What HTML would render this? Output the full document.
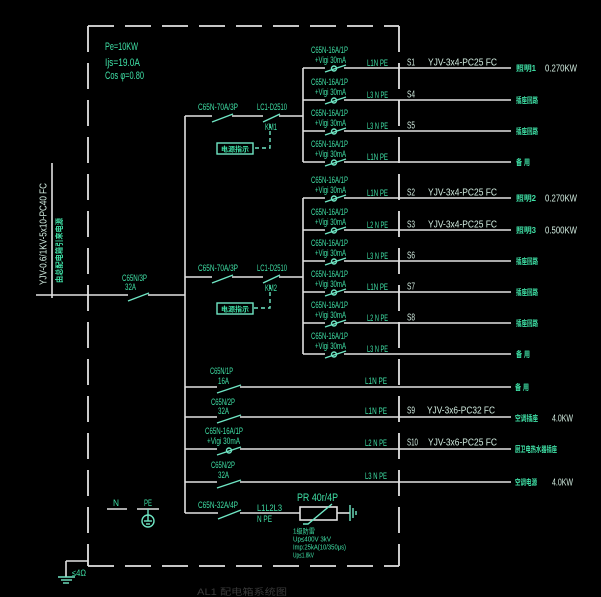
<!DOCTYPE html>
<html><head><meta charset="utf-8">
<style>
html,body{margin:0;padding:0;background:#000;}
svg{display:block}
.l{stroke:#e2e2e2;stroke-width:1.6;fill:none}
.d{stroke:#e2e2e2;stroke-width:1.8;fill:none;stroke-dasharray:26 11}
.b{stroke:#6fe6c4;stroke-width:1.4;fill:none}
text{font-family:"Liberation Sans","Noto Sans CJK SC",sans-serif;}
.g{fill:#3fe0a6;font-size:9px}
.w{fill:#d2ece0;font-size:10px}
.c{fill:#3fe0a6;font-size:8px;font-weight:bold}
</style></head><body>
<svg width="601" height="597" viewBox="0 0 601 597" xmlns="http://www.w3.org/2000/svg">
<rect width="601" height="597" fill="#000"/>

<!-- dashed enclosure -->
<line class="d" x1="88" y1="26" x2="399" y2="26"/>
<line class="d" x1="88" y1="26" x2="88" y2="566"/>
<line class="d" x1="88" y1="566" x2="399" y2="566"/>
<line class="d" x1="399" y1="26" x2="399" y2="566"/>

<!-- info -->
<text class="g" style="font-size:11px" x="105" y="50" textLength="33" lengthAdjust="spacingAndGlyphs">Pe=10KW</text>
<text class="g" style="font-size:11px" x="105" y="66" textLength="35" lengthAdjust="spacingAndGlyphs">Ijs=19.0A</text>
<text class="g" style="font-size:11px" x="105" y="79" textLength="39" lengthAdjust="spacingAndGlyphs">Cos φ=0.80</text>

<!-- incoming -->
<line class="l" x1="52" y1="163" x2="52" y2="298"/>
<line class="l" x1="36" y1="295" x2="128" y2="295"/>
<line class="b" x1="128" y1="301" x2="149" y2="293"/>
<line class="l" x1="148" y1="295" x2="185" y2="295"/>
<text class="w" transform="translate(46.5,285) rotate(-90)" textLength="102" lengthAdjust="spacingAndGlyphs">YJV-0.6/1KV-5x10-PC40  FC</text>
<text class="c" transform="translate(62,283) rotate(-90)" textLength="65" lengthAdjust="spacingAndGlyphs">由总配电箱引来电源</text>
<text class="g" x="122" y="281" textLength="25" lengthAdjust="spacingAndGlyphs">C65N/3P</text>
<text class="g" x="125" y="290" textLength="11" lengthAdjust="spacingAndGlyphs">32A</text>

<!-- main bus -->
<line class="l" x1="185" y1="116" x2="185" y2="513"/>

<!-- group 1 feeder -->
<line class="l" x1="185" y1="116" x2="212" y2="116"/>
<line class="b" x1="212" y1="122" x2="233" y2="114"/>
<line class="l" x1="232" y1="116" x2="263" y2="116"/>
<line class="b" x1="263" y1="122" x2="280" y2="114"/>
<line class="l" x1="279" y1="116" x2="303" y2="116"/>
<line class="l" x1="303" y1="68" x2="303" y2="162"/>
<path class="b" stroke-dasharray="4 3" d="M270,124 V148 H253"/>
<rect class="b" x="217" y="143" width="36" height="11"/>
<text class="c" style="font-size:7px" x="221" y="151.5" textLength="28" lengthAdjust="spacingAndGlyphs">电源指示</text>
<text class="g" x="198" y="110" textLength="40" lengthAdjust="spacingAndGlyphs">C65N-70A/3P</text>
<text class="g" x="257" y="110" textLength="30" lengthAdjust="spacingAndGlyphs">LC1-D2510</text>
<text class="g" x="265" y="130" textLength="12" lengthAdjust="spacingAndGlyphs">KM1</text>

<!-- group 2 feeder -->
<line class="l" x1="185" y1="277" x2="212" y2="277"/>
<line class="b" x1="212" y1="283" x2="233" y2="275"/>
<line class="l" x1="232" y1="277" x2="263" y2="277"/>
<line class="b" x1="263" y1="283" x2="280" y2="275"/>
<line class="l" x1="279" y1="277" x2="303" y2="277"/>
<line class="l" x1="303" y1="198" x2="303" y2="354"/>
<path class="b" stroke-dasharray="4 3" d="M270,285 V308 H253"/>
<rect class="b" x="217" y="303" width="36" height="11"/>
<text class="c" style="font-size:7px" x="221" y="311.5" textLength="28" lengthAdjust="spacingAndGlyphs">电源指示</text>
<text class="g" x="198" y="271" textLength="40" lengthAdjust="spacingAndGlyphs">C65N-70A/3P</text>
<text class="g" x="257" y="271" textLength="30" lengthAdjust="spacingAndGlyphs">LC1-D2510</text>
<text class="g" x="265" y="291" textLength="12" lengthAdjust="spacingAndGlyphs">KM2</text>

<!-- ===== sub rows ===== -->
<!-- row 68 -->
<line class="l" x1="303" y1="68" x2="325" y2="68"/><line class="b" x1="325" y1="72" x2="346" y2="65"/><circle class="b" cx="334" cy="68.5" r="2.5"/><line class="l" x1="344" y1="68" x2="511" y2="68"/>
<text class="g" x="311" y="53" textLength="37" lengthAdjust="spacingAndGlyphs">C65N-16A/1P</text>
<text class="g" x="315" y="63" textLength="31" lengthAdjust="spacingAndGlyphs">+Vigi 30mA</text>
<text class="g" x="367" y="66" textLength="21" lengthAdjust="spacingAndGlyphs">L1N PE</text>
<text class="w" x="407" y="65.5" textLength="8" lengthAdjust="spacingAndGlyphs">S1</text>
<text class="w" x="428" y="65.5" textLength="69" lengthAdjust="spacingAndGlyphs">YJV-3x4-PC25  FC</text>
<text class="c" x="516" y="71" textLength="20" lengthAdjust="spacingAndGlyphs">照明1</text>
<text class="w" x="545" y="71.5" textLength="32" lengthAdjust="spacingAndGlyphs">0.270KW</text>

<!-- row 100 -->
<line class="l" x1="303" y1="100" x2="325" y2="100"/><line class="b" x1="325" y1="104" x2="346" y2="97"/><circle class="b" cx="334" cy="100.5" r="2.5"/><line class="l" x1="344" y1="100" x2="511" y2="100"/>
<text class="g" x="311" y="85" textLength="37" lengthAdjust="spacingAndGlyphs">C65N-16A/1P</text>
<text class="g" x="315" y="95" textLength="31" lengthAdjust="spacingAndGlyphs">+Vigi 30mA</text>
<text class="g" x="367" y="98" textLength="21" lengthAdjust="spacingAndGlyphs">L3 N PE</text>
<text class="w" x="407" y="97.5" textLength="8" lengthAdjust="spacingAndGlyphs">S4</text>
<text class="c" x="516" y="103" textLength="22" lengthAdjust="spacingAndGlyphs">插座回路</text>

<!-- row 131 -->
<line class="l" x1="303" y1="131" x2="325" y2="131"/><line class="b" x1="325" y1="135" x2="346" y2="128"/><circle class="b" cx="334" cy="131.5" r="2.5"/><line class="l" x1="344" y1="131" x2="511" y2="131"/>
<text class="g" x="311" y="116" textLength="37" lengthAdjust="spacingAndGlyphs">C65N-16A/1P</text>
<text class="g" x="315" y="126" textLength="31" lengthAdjust="spacingAndGlyphs">+Vigi 30mA</text>
<text class="g" x="367" y="129" textLength="21" lengthAdjust="spacingAndGlyphs">L3 N PE</text>
<text class="w" x="407" y="128.5" textLength="8" lengthAdjust="spacingAndGlyphs">S5</text>
<text class="c" x="516" y="134" textLength="22" lengthAdjust="spacingAndGlyphs">插座回路</text>

<!-- row 162 -->
<line class="l" x1="303" y1="162" x2="325" y2="162"/><line class="b" x1="325" y1="166" x2="346" y2="159"/><circle class="b" cx="334" cy="162.5" r="2.5"/><line class="l" x1="344" y1="162" x2="511" y2="162"/>
<text class="g" x="311" y="147" textLength="37" lengthAdjust="spacingAndGlyphs">C65N-16A/1P</text>
<text class="g" x="315" y="157" textLength="31" lengthAdjust="spacingAndGlyphs">+Vigi 30mA</text>
<text class="g" x="367" y="160" textLength="21" lengthAdjust="spacingAndGlyphs">L1N PE</text>
<text class="c" x="516" y="165" textLength="14" lengthAdjust="spacingAndGlyphs">备 用</text>

<!-- row 198 -->
<line class="l" x1="303" y1="198" x2="325" y2="198"/><line class="b" x1="325" y1="202" x2="346" y2="195"/><circle class="b" cx="334" cy="198.5" r="2.5"/><line class="l" x1="344" y1="198" x2="511" y2="198"/>
<text class="g" x="311" y="183" textLength="37" lengthAdjust="spacingAndGlyphs">C65N-16A/1P</text>
<text class="g" x="315" y="193" textLength="31" lengthAdjust="spacingAndGlyphs">+Vigi 30mA</text>
<text class="g" x="367" y="196" textLength="21" lengthAdjust="spacingAndGlyphs">L1N PE</text>
<text class="w" x="407" y="195.5" textLength="8" lengthAdjust="spacingAndGlyphs">S2</text>
<text class="w" x="428" y="195.5" textLength="69" lengthAdjust="spacingAndGlyphs">YJV-3x4-PC25  FC</text>
<text class="c" x="516" y="201" textLength="20" lengthAdjust="spacingAndGlyphs">照明2</text>
<text class="w" x="545" y="201.5" textLength="32" lengthAdjust="spacingAndGlyphs">0.270KW</text>

<!-- row 230 -->
<line class="l" x1="303" y1="230" x2="325" y2="230"/><line class="b" x1="325" y1="234" x2="346" y2="227"/><circle class="b" cx="334" cy="230.5" r="2.5"/><line class="l" x1="344" y1="230" x2="511" y2="230"/>
<text class="g" x="311" y="215" textLength="37" lengthAdjust="spacingAndGlyphs">C65N-16A/1P</text>
<text class="g" x="315" y="225" textLength="31" lengthAdjust="spacingAndGlyphs">+Vigi 30mA</text>
<text class="g" x="367" y="228" textLength="21" lengthAdjust="spacingAndGlyphs">L2 N PE</text>
<text class="w" x="407" y="227.5" textLength="8" lengthAdjust="spacingAndGlyphs">S3</text>
<text class="w" x="428" y="227.5" textLength="69" lengthAdjust="spacingAndGlyphs">YJV-3x4-PC25  FC</text>
<text class="c" x="516" y="233" textLength="20" lengthAdjust="spacingAndGlyphs">照明3</text>
<text class="w" x="545" y="233.5" textLength="32" lengthAdjust="spacingAndGlyphs">0.500KW</text>

<!-- row 261 -->
<line class="l" x1="303" y1="261" x2="325" y2="261"/><line class="b" x1="325" y1="265" x2="346" y2="258"/><circle class="b" cx="334" cy="261.5" r="2.5"/><line class="l" x1="344" y1="261" x2="511" y2="261"/>
<text class="g" x="311" y="246" textLength="37" lengthAdjust="spacingAndGlyphs">C65N-16A/1P</text>
<text class="g" x="315" y="256" textLength="31" lengthAdjust="spacingAndGlyphs">+Vigi 30mA</text>
<text class="g" x="367" y="259" textLength="21" lengthAdjust="spacingAndGlyphs">L3 N PE</text>
<text class="w" x="407" y="258.5" textLength="8" lengthAdjust="spacingAndGlyphs">S6</text>
<text class="c" x="516" y="264" textLength="22" lengthAdjust="spacingAndGlyphs">插座回路</text>

<!-- row 292 -->
<line class="l" x1="303" y1="292" x2="325" y2="292"/><line class="b" x1="325" y1="296" x2="346" y2="289"/><circle class="b" cx="334" cy="292.5" r="2.5"/><line class="l" x1="344" y1="292" x2="511" y2="292"/>
<text class="g" x="311" y="277" textLength="37" lengthAdjust="spacingAndGlyphs">C65N-16A/1P</text>
<text class="g" x="315" y="287" textLength="31" lengthAdjust="spacingAndGlyphs">+Vigi 30mA</text>
<text class="g" x="367" y="290" textLength="21" lengthAdjust="spacingAndGlyphs">L1N PE</text>
<text class="w" x="407" y="289.5" textLength="8" lengthAdjust="spacingAndGlyphs">S7</text>
<text class="c" x="516" y="295" textLength="22" lengthAdjust="spacingAndGlyphs">插座回路</text>

<!-- row 323 -->
<line class="l" x1="303" y1="323" x2="325" y2="323"/><line class="b" x1="325" y1="327" x2="346" y2="320"/><circle class="b" cx="334" cy="323.5" r="2.5"/><line class="l" x1="344" y1="323" x2="511" y2="323"/>
<text class="g" x="311" y="308" textLength="37" lengthAdjust="spacingAndGlyphs">C65N-16A/1P</text>
<text class="g" x="315" y="318" textLength="31" lengthAdjust="spacingAndGlyphs">+Vigi 30mA</text>
<text class="g" x="367" y="321" textLength="21" lengthAdjust="spacingAndGlyphs">L2 N PE</text>
<text class="w" x="407" y="320.5" textLength="8" lengthAdjust="spacingAndGlyphs">S8</text>
<text class="c" x="516" y="326" textLength="22" lengthAdjust="spacingAndGlyphs">插座回路</text>

<!-- row 354 -->
<line class="l" x1="303" y1="354" x2="325" y2="354"/><line class="b" x1="325" y1="358" x2="346" y2="351"/><circle class="b" cx="334" cy="354.5" r="2.5"/><line class="l" x1="344" y1="354" x2="511" y2="354"/>
<text class="g" x="311" y="339" textLength="37" lengthAdjust="spacingAndGlyphs">C65N-16A/1P</text>
<text class="g" x="315" y="349" textLength="31" lengthAdjust="spacingAndGlyphs">+Vigi 30mA</text>
<text class="g" x="367" y="352" textLength="21" lengthAdjust="spacingAndGlyphs">L3 N PE</text>
<text class="c" x="516" y="357" textLength="14" lengthAdjust="spacingAndGlyphs">备 用</text>

<!-- ===== lower rows ===== -->
<!-- 387 -->
<line class="l" x1="185" y1="387" x2="217" y2="387"/><line class="b" x1="217" y1="393" x2="241" y2="385"/><line class="l" x1="240" y1="387" x2="511" y2="387"/>
<text class="g" x="210" y="374" textLength="23" lengthAdjust="spacingAndGlyphs">C65N/1P</text>
<text class="g" x="218" y="384" textLength="11" lengthAdjust="spacingAndGlyphs">16A</text>
<text class="g" x="365" y="384" textLength="22" lengthAdjust="spacingAndGlyphs">L1N PE</text>
<text class="c" x="515" y="390" textLength="14" lengthAdjust="spacingAndGlyphs">备 用</text>

<!-- 417 -->
<line class="l" x1="185" y1="417" x2="217" y2="417"/><line class="b" x1="217" y1="423" x2="241" y2="415"/><line class="l" x1="240" y1="417" x2="511" y2="417"/>
<text class="g" x="211" y="405" textLength="24" lengthAdjust="spacingAndGlyphs">C65N/2P</text>
<text class="g" x="218" y="414" textLength="11" lengthAdjust="spacingAndGlyphs">32A</text>
<text class="g" x="365" y="414" textLength="22" lengthAdjust="spacingAndGlyphs">L1N PE</text>
<text class="w" x="407" y="413.5" textLength="8" lengthAdjust="spacingAndGlyphs">S9</text>
<text class="w" x="427" y="413.5" textLength="68" lengthAdjust="spacingAndGlyphs">YJV-3x6-PC32  FC</text>
<text class="c" x="515" y="421" textLength="23" lengthAdjust="spacingAndGlyphs">空调插座</text>
<text class="w" x="552" y="421.5" textLength="21" lengthAdjust="spacingAndGlyphs">4.0KW</text>

<!-- 449 -->
<line class="l" x1="185" y1="449" x2="217" y2="449"/><line class="b" x1="217" y1="455" x2="241" y2="447"/><circle class="b" cx="229" cy="450.5" r="2.5"/><line class="l" x1="240" y1="449" x2="511" y2="449"/>
<text class="g" x="205" y="434" textLength="38" lengthAdjust="spacingAndGlyphs">C65N-16A/1P</text>
<text class="g" x="207" y="444" textLength="33" lengthAdjust="spacingAndGlyphs">+Vigi 30mA</text>
<text class="g" x="365" y="446" textLength="22" lengthAdjust="spacingAndGlyphs">L2 N PE</text>
<text class="w" x="407" y="445.5" textLength="11" lengthAdjust="spacingAndGlyphs">S10</text>
<text class="w" x="428" y="445.5" textLength="69" lengthAdjust="spacingAndGlyphs">YJV-3x6-PC25  FC</text>
<text class="c" x="515" y="452" textLength="42" lengthAdjust="spacingAndGlyphs">厨卫电热水器插座</text>

<!-- 482 -->
<line class="l" x1="185" y1="482" x2="217" y2="482"/><line class="b" x1="217" y1="488" x2="241" y2="480"/><line class="l" x1="240" y1="482" x2="511" y2="482"/>
<text class="g" x="211" y="468" textLength="24" lengthAdjust="spacingAndGlyphs">C65N/2P</text>
<text class="g" x="218" y="478" textLength="11" lengthAdjust="spacingAndGlyphs">32A</text>
<text class="g" x="365" y="479" textLength="22" lengthAdjust="spacingAndGlyphs">L3 N PE</text>
<text class="c" x="515" y="485" textLength="22" lengthAdjust="spacingAndGlyphs">空调电源</text>
<text class="w" x="552" y="485.5" textLength="21" lengthAdjust="spacingAndGlyphs">4.0KW</text>

<!-- 513 surge protector -->
<line class="l" x1="185" y1="513" x2="218" y2="513"/><line class="b" x1="218" y1="519" x2="241" y2="510"/><line class="l" x1="240" y1="513" x2="300" y2="513"/>
<rect class="l" x="300" y="507" width="37" height="13"/>
<path class="b" d="M303,524 L308,524 L332,504"/>
<line class="l" x1="337" y1="513" x2="350" y2="513"/>
<line class="b" x1="350" y1="505" x2="350" y2="521"/>
<line class="b" x1="353" y1="508" x2="353" y2="518"/>
<line class="b" x1="356" y1="511" x2="356" y2="515"/>
<text class="g" x="198" y="508" textLength="40" lengthAdjust="spacingAndGlyphs">C65N-32A/4P</text>
<text class="g" x="257" y="511" textLength="25" lengthAdjust="spacingAndGlyphs">L1L2L3</text>
<text class="g" x="257" y="522" textLength="15" lengthAdjust="spacingAndGlyphs">N PE</text>
<text class="g" style="font-size:11px" x="297" y="501" textLength="41" lengthAdjust="spacingAndGlyphs">PR 40r/4P</text>
<text class="g" style="font-size:7px" x="293" y="533.5" textLength="22" lengthAdjust="spacingAndGlyphs">1级防雷</text>
<text class="g" style="font-size:7px" x="293" y="541.5" textLength="38" lengthAdjust="spacingAndGlyphs">Up≤400V 3kV</text>
<text class="g" style="font-size:7px" x="293" y="549.5" textLength="53" lengthAdjust="spacingAndGlyphs">Imp:25kA(10/350μs)</text>
<text class="g" style="font-size:7px" x="293" y="557.5" textLength="21" lengthAdjust="spacingAndGlyphs">Up≤1.8kV</text>

<!-- N / PE -->
<text class="g" x="113" y="506" textLength="6" lengthAdjust="spacingAndGlyphs">N</text>
<line class="l" x1="107" y1="509" x2="127" y2="509"/>
<text class="g" x="144" y="506" textLength="8" lengthAdjust="spacingAndGlyphs">PE</text>
<line class="l" x1="137" y1="509" x2="159" y2="509"/>
<circle class="b" cx="148" cy="521" r="6"/>
<line class="b" x1="148" y1="509" x2="148" y2="521"/>
<line class="b" x1="144" y1="521" x2="152" y2="521"/>
<line class="b" x1="146" y1="524" x2="150" y2="524"/>

<!-- ground bottom-left -->
<line class="l" x1="66" y1="561" x2="88" y2="561"/>
<line class="l" x1="66" y1="561" x2="66" y2="577"/>
<line class="b" x1="58" y1="577" x2="75" y2="577"/>
<line class="b" x1="61" y1="580" x2="72" y2="580"/>
<line class="b" x1="63" y1="583" x2="69" y2="583"/>
<text class="g" x="72" y="576" textLength="14" lengthAdjust="spacingAndGlyphs">≤4Ω</text>

<!-- faint title -->
<text x="197" y="595" fill="#3a3a3a" style="font-size:9px" textLength="90" lengthAdjust="spacingAndGlyphs">AL1 配电箱系统图</text>
</svg>
</body></html>
